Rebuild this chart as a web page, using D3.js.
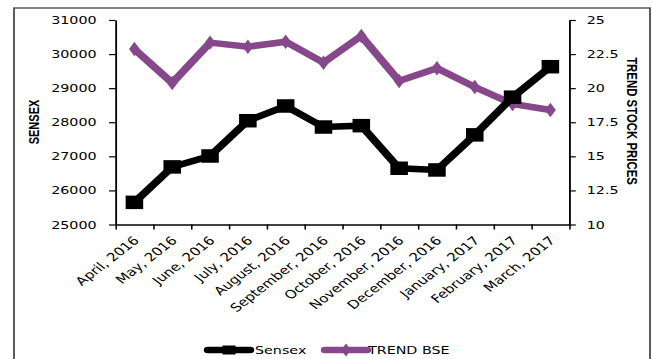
<!DOCTYPE html>
<html><head><meta charset="utf-8">
<script src="https://cdn.jsdelivr.net/npm/d3@7"></script>
<style>
html,body{margin:0;padding:0;background:#fff;}
svg{display:block;}
text{font-family:"DejaVu Sans",sans-serif;}
</style></head>
<body>
<svg id="c" width="652" height="359"></svg>
<script>
const months = ["April, 2016","May, 2016","June, 2016","July, 2016","August, 2016","September, 2016","October, 2016","November, 2016","December, 2016","January, 2017","February, 2017","March, 2017"];
const sensex = [25650, 26690, 27010, 28045, 28477, 27860, 27900, 26650, 26600, 27630, 28735, 29630];
const trendBSE = [22.87, 20.38, 23.34, 23.04, 23.41, 21.87, 23.83, 20.53, 21.46, 20.09, 18.84, 18.4];
const leftTicks = [25000, 26000, 27000, 28000, 29000, 30000, 31000];
const rightTicks = [10, 12.5, 15, 17.5, 20, 22.5, 25];
const seriesNames = ["Sensex", "TREND BSE"];

const SX = 1.3; // horizontal stretch of the original picture
const svg = d3.select("#c");
const g = svg.append("g").attr("transform", `scale(${SX},1)`);

const X0 = 115.5 / SX, X1 = 569.3 / SX, YT = 20, YB = 224.5;
const purple = "#86488a";

// border
g.append("rect").attr("x", 14/SX).attr("y", 8).attr("width", (650-14)/SX).attr("height", 420)
  .attr("fill", "none").attr("stroke", "#595959").attr("stroke-width", 1.5);

const x = d3.scaleBand().domain(months).range([X0, X1]).padding(0);
const xb = d3.scaleLinear().domain([0, months.length]).range([X0, X1]);
const yL = d3.scaleLinear().domain([25000, 31000]).range([YB, YT]);
const yR = d3.scaleLinear().domain([10, 25]).range([YB, YT]);

function styleAxis(sel){
  sel.selectAll("path").attr("stroke", "#000").attr("stroke-width", 1.4);
  sel.selectAll("line").attr("stroke", "#000").attr("stroke-width", 1.2);
  sel.selectAll("text").attr("fill", "#000").style("font-size", "11px").style("font-family", '"DejaVu Sans", sans-serif');
}

// left axis
const gl = g.append("g").attr("transform", `translate(${X0},0)`)
  .call(d3.axisLeft(yL).tickValues(leftTicks).tickSize(5).tickPadding(9.5).tickSizeOuter(0).tickFormat(d3.format("d")));
styleAxis(gl);
// right axis
const gr = g.append("g").attr("transform", `translate(${X1},0)`)
  .call(d3.axisRight(yR).tickValues(rightTicks).tickSize(5).tickPadding(8.4).tickSizeOuter(0).tickFormat(d => String(d)));
styleAxis(gr);
// bottom axis ticks at category boundaries
const gbt = g.append("g").attr("transform", `translate(0,${YB})`)
  .call(d3.axisBottom(xb).tickValues(d3.range(0, months.length + 1)).tickSize(5).tickSizeOuter(0).tickFormat(""));
styleAxis(gbt);
// bottom labels at category centres
const cx = m => x(m) + x.bandwidth() / 2;
g.append("g").selectAll("text").data(months).join("text")
  .attr("transform", d => `translate(${cx(d) + 1.5},${YB + 14}) rotate(-45)`)
  .attr("text-anchor", "end").attr("dy", "0.35em")
  .attr("fill", "#000").style("font-size", "11.6px")
  .text(d => d);

// axis titles
g.append("text").attr("transform", `translate(${34/SX},122) rotate(-90)`)
  .attr("text-anchor", "middle").attr("dy", "0.35em")
  .style("font-family", '"Liberation Sans", Arial, sans-serif').style("font-weight", "bold").style("font-size", "11px")
  .text("SENSEX");
g.append("text").attr("transform", `translate(${632/SX},121) rotate(90)`)
  .attr("text-anchor", "middle").attr("dy", "0.35em")
  .style("font-family", '"Liberation Sans", Arial, sans-serif').style("font-weight", "bold").style("font-size", "11.4px")
  .text("TREND STOCK PRICES");

// series
const lineL = d3.line().x((d, i) => cx(months[i])).y(d => yL(d));
const lineR = d3.line().x((d, i) => cx(months[i])).y(d => yR(d));

g.append("path").datum(trendBSE).attr("d", lineR).attr("fill", "none")
  .attr("stroke", purple).attr("stroke-width", 6.5).attr("stroke-linejoin", "miter");
const diamond = d3.symbol().type(d3.symbolDiamond).size(60);
g.selectAll(".dm").data(trendBSE).join("path")
  .attr("transform", (d, i) => `translate(${cx(months[i])},${yR(d)})`)
  .attr("d", diamond).attr("fill", purple);

g.append("path").datum(sensex).attr("d", lineL).attr("fill", "none")
  .attr("stroke", "#000").attr("stroke-width", 6.5).attr("stroke-linejoin", "miter");
const sq = 13.5;
g.selectAll(".sq").data(sensex).join("rect")
  .attr("x", (d, i) => cx(months[i]) - sq / 2).attr("y", d => yL(d) - sq / 2)
  .attr("width", sq).attr("height", sq).attr("fill", "#000");

// legend
const LY = 350;
const leg = [
  {name: seriesNames[0], x0: 208/SX, x1: 250/SX, tx: 255/SX, color: "#000", mark: "square"},
  {name: seriesNames[1], x0: 325/SX, x1: 367/SX, tx: 368/SX, color: purple, mark: "diamond"}
];
leg.forEach(l => {
  g.append("line").attr("x1", l.x0).attr("x2", l.x1).attr("y1", LY).attr("y2", LY)
    .attr("stroke", l.color).attr("stroke-width", 6.5).attr("stroke-linecap", "round");
  const mx = (l.x0 + l.x1) / 2;
  if (l.mark === "square") {
    g.append("rect").attr("x", mx - 5).attr("y", LY - 4.5).attr("width", 10).attr("height", 9).attr("fill", l.color);
  } else {
    g.append("path").attr("transform", `translate(${mx},${LY})`).attr("d", d3.symbol().type(d3.symbolDiamond).size(50)).attr("fill", l.color);
  }
  g.append("text").attr("x", l.tx).attr("y", LY).attr("dy", "0.35em")
    .style("font-size", "11px").attr("fill", "#000").text(l.name);
});
</script>
</body></html>
